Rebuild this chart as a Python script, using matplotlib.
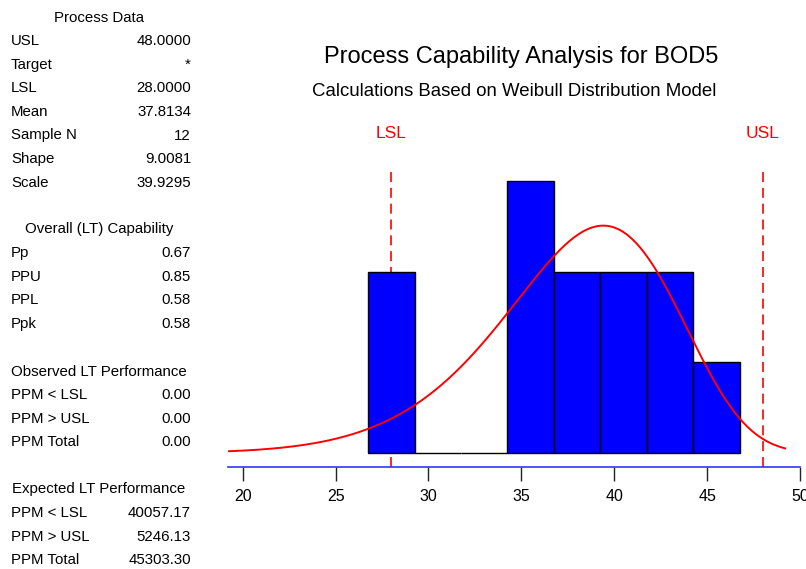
import matplotlib.pyplot as plt
import numpy as np

plt.rcParams['font.family'] = ['Liberation Sans', 'DejaVu Sans']

# histogram of the 12 observations
bin_edges = [26.75, 29.25, 31.75, 34.25, 36.75, 39.25, 41.75, 44.25, 46.75]
counts = [2, 0, 0, 3, 2, 2, 2, 1]

usl = 48.0
lsl = 28.0
shape = 9.0081
scale = 39.9295
n_obs = 12

process_data = [("USL", "48.0000"), ("Target", "*"), ("LSL", "28.0000"),
                ("Mean", "37.8134"), ("Sample N", "12"), ("Shape", "9.0081"),
                ("Scale", "39.9295")]
overall_cap = [("Pp", "0.67"), ("PPU", "0.85"), ("PPL", "0.58"), ("Ppk", "0.58")]
observed_perf = [("PPM < LSL", "0.00"), ("PPM > USL", "0.00"), ("PPM Total", "0.00")]
expected_perf = [("PPM < LSL", "40057.17"), ("PPM > USL", "5246.13"),
                 ("PPM Total", "45303.30")]

W, H = 806, 569
fig = plt.figure(figsize=(W / 100, H / 100), dpi=100)

# main axes placed in pixel terms
x0, x1 = 228, 800
ytop, ybot = 100, 467
ax = fig.add_axes([x0 / W, 1 - ybot / H, (x1 - x0) / W, (ybot - ytop) / H])

x_lo, x_hi = 19.21, 50.0
y_lo, y_hi = -0.154, 3.89
ax.set_xlim(x_lo, x_hi)
ax.set_ylim(y_lo, y_hi)

widths = np.diff(bin_edges)
ax.bar(bin_edges[:-1], counts, width=widths, align='edge', color='#0000ff',
       edgecolor='black', linewidth=1.0, zorder=3)

# fitted Weibull model, scaled to counts
xs = np.linspace(x_lo, 49.2, 400)
z = xs / scale
pdf = shape / scale * z ** (shape - 1) * np.exp(-z ** shape)
ax.plot(xs, pdf * n_obs * widths[0], color='red', linewidth=1.4, zorder=4)

for v, lab in [(lsl, "LSL"), (usl, "USL")]:
    ax.plot([v, v], [y_lo, 3.12], color='red', linestyle=(0, (6, 3.5)),
            linewidth=1.2, zorder=2)
    ax.text(v, 3.52, lab, color='red', fontsize=12.5, ha='center', va='center')

for s in ['top', 'left', 'right']:
    ax.spines[s].set_visible(False)
ax.spines['bottom'].set_color('#3333ff')
ax.spines['bottom'].set_linewidth(1.2)
ax.set_yticks([])
ax.set_xticks([20, 25, 30, 35, 40, 45, 50])
ax.tick_params(axis='x', length=10, width=1, color='#222222', pad=6,
               labelsize=11.5)

fig.text(521 / W, 1 - 57 / H, "Process Capability Analysis for BOD5",
         fontsize=17, ha='center', va='center')
fig.text(514 / W, 1 - 91 / H, "Calculations Based on Weibull Distribution Model",
         fontsize=13.4, ha='center', va='center')

# left side summary table
row_h = 23.6
def block(title, rows, y_start):
    fig.text(99 / W, 1 - y_start / H, title, fontsize=10.8, ha='center', va='center')
    for i, (k, v) in enumerate(rows):
        y = 1 - (y_start + row_h * (i + 1)) / H
        fig.text(11 / W, y, k, fontsize=10.8, ha='left', va='center')
        fig.text(191 / W, y, v, fontsize=10.8, ha='right', va='center')

block("Process Data", process_data, 17.5)
block("Overall (LT) Capability", overall_cap, 229.5)
block("Observed LT Performance", observed_perf, 371.5)
block("Expected LT Performance", expected_perf, 489.5)

fig.savefig("out.png", dpi=100)
